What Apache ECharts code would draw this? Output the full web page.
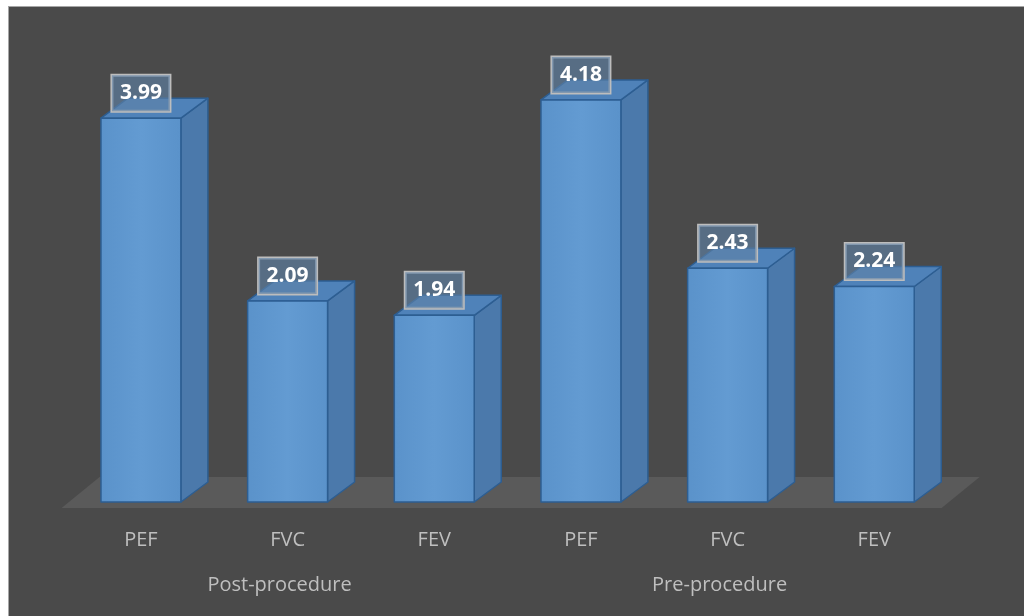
<!DOCTYPE html>
<html>
<head>
<meta charset="utf-8">
<script src="https://cdn.jsdelivr.net/npm/echarts@6/dist/echarts.min.js"></script>
<style>
  html, body { margin: 0; padding: 0; background: #fff; width: 1024px; height: 616px; overflow: hidden; }
  #chart { position: absolute; left: 8px; top: 6px; width: 1016px; height: 610px;
           border-left: 1px solid #a6a6a6; border-top: 1px solid #a6a6a6; box-sizing: border-box; }
</style>
</head>
<body>
<div id="chart"></div>
<script>
const categories = ['PEF', 'FVC', 'FEV', 'PEF', 'FVC', 'FEV']
const groups = ['Post-procedure', 'Pre-procedure']
const values = [3.99, 2.09, 1.94, 4.18, 2.43, 2.24]

const chart = echarts.init(document.getElementById('chart'))

// depth of the fake 3d boxes
const DX = 27
const DY = 20

function renderBar (params, api) {
  const idx = api.value(0)
  const val = api.value(1)
  const top = api.coord([idx, val])
  const base = api.coord([idx, 0])
  const w = api.size([1, 0])[0] * 0.545
  const x0 = top[0] - w / 2
  const x1 = top[0] + w / 2
  const yt = top[1]
  const yb = base[1]
  const edge = { stroke: '#2d5e92', lineWidth: 1.5, lineJoin: 'round' }
  return {
    type: 'group',
    children: [
      {
        type: 'polygon',
        shape: { points: [[x1, yb], [x1 + DX, yb - DY], [x1 + DX, yt - DY], [x1, yt]] },
        style: Object.assign({ fill: '#4b79ab' }, edge)
      },
      {
        type: 'polygon',
        shape: { points: [[x0, yt], [x1, yt], [x1 + DX, yt - DY], [x0 + DX, yt - DY]] },
        style: Object.assign({ fill: '#4f82b9' }, edge)
      },
      {
        type: 'rect',
        shape: { x: x0, y: yt, width: w, height: yb - yt },
        style: Object.assign({
          fill: new echarts.graphic.LinearGradient(0, 0, 1, 0, [
            { offset: 0, color: '#5a92ca' },
            { offset: 0.5, color: '#639bd2' },
            { offset: 1, color: '#5a92ca' }
          ])
        }, edge)
      },
      {
        type: 'text',
        z2: 10,
        style: {
          text: val.toFixed(2),
          x: top[0],
          y: yt - 25,
          align: 'center',
          verticalAlign: 'middle',
          fill: '#ffffff',
          font: 'bold 21px "Open Sans", sans-serif',
          backgroundColor: 'rgba(96,130,168,0.62)',
          borderColor: '#bdbdbd',
          borderWidth: 1.5,
          padding: [8, 8, 7, 8]
        }
      }
    ]
  }
}

function renderFloor (params, api) {
  const left = api.coord([0, 0])
  const right = api.coord([categories.length - 1, 0])
  const band = api.size([1, 0])[0]
  const xl = left[0] - band / 2 - 6
  const xr = right[0] + band / 2 - 6
  const y = left[1] + 6
  return {
    type: 'polygon',
    shape: { points: [[xl, y], [xr, y], [xr + 38, y - 31], [xl + 38, y - 31]] },
    style: { fill: '#5a5a5a' }
  }
}

const option = {
  backgroundColor: '#4a4a4a',
  animation: false,
  grid: { left: 58.6, right: 76.4, top: 14, bottom: 114 },
  xAxis: [
    {
      type: 'category',
      data: categories,
      axisLine: { show: false },
      axisTick: { show: false },
      axisLabel: { color: '#bfbfbf', fontSize: 20, fontFamily: 'Open Sans', margin: 28 }
    },
    {
      type: 'category',
      data: groups,
      position: 'bottom',
      offset: 45,
      axisLine: { show: false },
      axisTick: { show: false },
      axisLabel: { color: '#bfbfbf', fontSize: 20, fontFamily: 'Open Sans', margin: 28, padding: [0, 16, 0, 0] }
    }
  ],
  yAxis: {
    type: 'value',
    min: 0,
    max: 5,
    show: false
  },
  series: [
    {
      name: 'floor',
      type: 'custom',
      renderItem: renderFloor,
      data: [[0, 0]],
      z: 1,
      silent: true
    },
    {
      name: 'values',
      type: 'custom',
      renderItem: renderBar,
      data: values.map((v, i) => [i, v]),
      encode: { x: 0, y: 1 },
      z: 2
    }
  ]
}

chart.setOption(option)
</script>
</body>
</html>
